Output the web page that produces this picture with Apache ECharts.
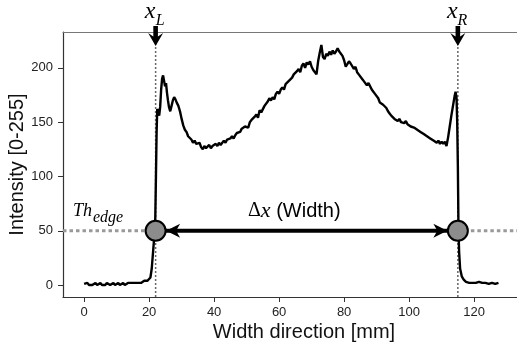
<!DOCTYPE html>
<html>
<head>
<meta charset="utf-8">
<script src="https://cdn.jsdelivr.net/npm/echarts@6/dist/echarts.min.js"></script>
<style>
  html, body { margin: 0; padding: 0; background: #fff; }
  #chart { width: 517px; height: 347px; }
</style>
</head>
<body>
<div id="chart"></div>
<script>
// intensity profile across the width, [mm, intensity]
const profile = [
  [0, 1], [0.5, 0], [1, 2], [1.5, 0], [2, 1], [2.5, 0], [3, 1], [3.5, 2], [4, 0], [4.5, 1],
  [5, 2], [5.5, 0], [6, 1], [6.5, 0], [7, 2], [7.5, 1], [8, 0], [8.5, 1], [9, 2], [9.5, 0],
  [10, 1], [10.5, 2], [11, 0], [11.5, 1], [12, 2], [12.5, 0], [13, 1], [13.5, 2], [14, 2], [14.5, 2],
  [15, 2], [15.5, 2], [16, 2], [16.5, 2], [17, 2], [17.5, 2], [18, 3], [18.5, 4], [19, 3], [19.5, 4],
  [20, 5], [20.4, 7], [20.8, 15], [21.2, 30], [21.6, 45], [21.9, 62], [22.1, 100], [22.3, 140], [22.5, 162],
  [22.8, 160], [23.1, 156], [23.4, 164], [23.7, 180], [24, 190], [24.3, 193], [24.6, 188], [24.9, 183],
  [25.2, 186], [25.5, 177], [25.8, 170], [26.1, 164], [26.5, 160], [26.9, 165], [27.3, 170], [27.7, 173],
  [28.1, 171], [28.5, 168], [29, 165], [29.5, 160],
  [30, 153], [30.5, 147], [31, 143], [31.5, 141], [32, 137], [32.5, 138], [33, 134], [33.5, 131], [34, 133], [34.5, 130],
  [35, 129], [35.5, 131], [36, 127], [36.5, 125], [37, 128], [37.5, 126], [38, 127], [38.5, 129], [39, 126], [39.5, 128],
  [40, 127], [40.5, 130], [41, 128], [41.5, 131], [42, 129], [42.5, 130], [43, 133], [43.5, 131], [44, 134], [44.5, 133],
  [45, 135], [45.5, 137], [46, 135], [46.5, 138], [47, 140], [47.5, 139], [48, 141], [48.5, 144], [49, 143], [49.5, 146],
  [50, 147], [50.5, 145], [51, 150], [51.5, 152], [52, 151], [52.5, 155], [53, 157], [53.5, 154], [54, 161], [54.5, 159],
  [55, 162], [55.5, 165], [56, 164], [56.5, 169], [57, 172], [57.5, 170], [58, 173], [58.5, 171], [59, 176], [59.5, 178],
  [60, 176], [60.5, 180], [61, 182], [61.5, 180], [62, 185], [62.5, 184], [63, 188], [63.5, 187], [64, 191], [64.5, 194],
  [65, 193], [65.5, 197], [66, 199], [66.5, 196], [67, 202], [67.5, 204], [68, 200], [68.5, 205], [69, 203], [69.5, 206],
  [70, 201], [70.5, 198], [71, 197], [71.5, 194], [72, 206], [72.5, 214], [73, 221], [73.5, 210], [74, 208], [74.5, 213],
  [75, 211], [75.5, 215], [76, 212], [76.5, 216], [77, 213], [77.5, 215], [78, 218], [78.5, 215], [79, 214], [79.5, 211],
  [80, 207], [80.5, 201], [81, 200], [81.5, 206], [82, 204], [82.5, 205], [83, 199], [83.5, 201], [84, 196], [84.5, 194],
  [85, 195], [85.5, 190], [86, 188], [86.5, 189], [87, 184], [87.5, 186], [88, 183], [88.5, 180], [89, 178], [89.5, 176],
  [90, 177], [90.5, 172], [91, 168], [91.5, 169], [92, 166], [92.5, 167], [93, 163], [93.5, 160], [94, 158], [94.5, 156],
  [95, 157], [95.5, 153], [96, 154], [96.5, 151], [97, 153], [97.5, 150], [98, 151], [98.5, 149], [99, 151], [99.5, 148],
  [100, 149], [100.5, 146], [101, 147], [101.5, 145], [102, 146], [102.5, 143], [103, 144], [103.5, 141], [104, 142], [104.5, 139],
  [105, 140], [105.5, 137], [106, 138], [106.5, 135], [107, 136], [107.5, 133], [108, 134], [108.5, 131], [109, 133], [109.5, 130],
  [110, 132], [110.5, 130], [111, 132], [111.5, 128],
  [112, 136], [112.5, 146], [113, 156], [113.5, 165], [114, 174], [114.3, 178], [114.6, 172], [114.8, 150],
  [115, 110], [115.2, 50], [115.4, 30], [115.7, 15], [116.2, 8], [116.8, 5], [117.5, 3],
  [118, 3], [118.5, 2], [119, 3], [119.5, 2], [120, 3], [120.5, 2], [121, 1], [121.5, 3], [122, 2], [122.5, 2],
  [123, 1], [123.5, 2], [124, 2], [124.5, 1], [125, 2], [125.5, 2], [126, 2], [126.5, 1], [127, 2], [127.5, 2]
];

const edgeMm = [22, 115];          // detected edges x_L, x_R
const edgeNames = ['L', 'R'];
const thresholdLevel = 50;          // Th_edge
const xTicks = [0, 20, 40, 60, 80, 100, 120];
const yTicks = [0, 50, 100, 150, 200];
const xRange = [-6.5, 133.2];
const yRange = [-11, 233];

const chart = echarts.init(document.getElementById('chart'));
const axisColor = '#333';
const sans = '"Liberation Sans", Arial, sans-serif';
const serif = '"Liberation Serif", "Times New Roman", serif';

const option = {
  animation: false,
  grid: { left: 63, right: 0, top: 32, bottom: 50, outerBoundsMode: 'none', containLabel: false },
  xAxis: [
    {
      type: 'value',
      min: xRange[0],
      max: xRange[1],
      name: 'Width direction [mm]',
      nameLocation: 'middle',
      nameGap: 25,
      nameMoveOverlap: false,
      nameTextStyle: { fontSize: 20, color: '#111', fontFamily: sans, padding: [0, 0, 0, 28] },
      axisLine: { onZero: false, lineStyle: { color: axisColor, width: 1.2 } },
      axisTick: { length: 5, customValues: xTicks, lineStyle: { color: axisColor } },
      axisLabel: { customValues: xTicks, margin: 9, fontSize: 13, color: '#222', fontFamily: sans },
      splitLine: { show: false },
    },
    {
      type: 'value',
      position: 'top',
      min: xRange[0],
      max: xRange[1],
      axisLine: { onZero: false, lineStyle: { color: '#777', width: 1 } },
      axisTick: { show: false },
      axisLabel: { show: false },
      splitLine: { show: false },
    },
  ],
  yAxis: {
    type: 'value',
    min: yRange[0],
    max: yRange[1],
    name: 'Intensity [0-255]',
    nameLocation: 'middle',
    nameGap: 36,
    nameMoveOverlap: false,
    nameTextStyle: { fontSize: 20, color: '#111', fontFamily: sans },
    axisLine: { show: true, onZero: false, lineStyle: { color: axisColor, width: 1.2 } },
    axisTick: { show: true, length: 5, customValues: yTicks, lineStyle: { color: axisColor } },
    axisLabel: { customValues: yTicks, margin: 10, fontSize: 13, color: '#222', fontFamily: sans },
    splitLine: { show: false },
  },
  series: [
    {
      // threshold, left part
      type: 'line',
      data: [[xRange[0], thresholdLevel], [edgeMm[0], thresholdLevel]],
      showSymbol: false,
      silent: true,
      z: 2,
      lineStyle: { color: '#999', width: 3, type: [3.5, 3] },
    },
    {
      // threshold, right part
      type: 'line',
      data: [[edgeMm[1], thresholdLevel], [xRange[1], thresholdLevel]],
      showSymbol: false,
      silent: true,
      z: 2,
      lineStyle: { color: '#999', width: 3, type: [3.5, 3] },
    },
    ...edgeMm.map((e) => ({
      type: 'line',
      data: [[e, yRange[0]], [e, yRange[1]]],
      showSymbol: false,
      silent: true,
      z: 2,
      lineStyle: { color: '#666', width: 1.5, type: [2, 2] },
    })),
    {
      type: 'line',
      data: profile,
      showSymbol: false,
      z: 3,
      lineStyle: { color: '#000', width: 2.4 },
    },
    {
      // width arrow shaft
      type: 'line',
      data: edgeMm.map((e) => [e, thresholdLevel]),
      showSymbol: false,
      silent: true,
      z: 4,
      lineStyle: { color: '#000', width: 4 },
    },
    {
      type: 'scatter',
      data: edgeMm.map((e) => [e, thresholdLevel]),
      symbolSize: 20,
      z: 5,
      itemStyle: { color: '#8c8c8c', borderColor: '#000', borderWidth: 2, opacity: 1 },
    },
  ],
};
chart.setOption(option);

// arrows and math labels, placed through the axes
const px = (v) => chart.convertToPixel({ xAxisIndex: 0 }, v);
const py = (v) => chart.convertToPixel({ yAxisIndex: 0 }, v);
const gridTop = py(yRange[1]);
const thrY = py(thresholdLevel);
const r = 10;
const elements = [];

edgeMm.forEach((e, i) => {
  const cx = px(e);
  const tipY = gridTop + 14;
  elements.push({
    type: 'polygon',
    z: 100,
    shape: {
      points: [
        [cx, tipY], [cx - 7.5, tipY - 13], [cx - 2.3, tipY - 9.5], [cx - 2.3, tipY - 20],
        [cx + 2.3, tipY - 20], [cx + 2.3, tipY - 9.5], [cx + 7.5, tipY - 13],
      ],
    },
    style: { fill: '#000' },
  });
  elements.push({
    type: 'text', z: 100, x: cx - 5.5, y: 12,
    style: { text: 'x', font: 'italic 24px ' + serif, fill: '#000', align: 'center', verticalAlign: 'middle' },
  });
  elements.push({
    type: 'text', z: 100, x: cx + 4.5, y: 21,
    style: { text: edgeNames[i], font: 'italic 16px ' + serif, fill: '#000', align: 'center', verticalAlign: 'middle' },
  });
});

// arrowheads of the width arrow, touching the circles
const lTip = px(edgeMm[0]) + r + 0.5;
const rTip = px(edgeMm[1]) - r - 0.5;
elements.push({
  type: 'polygon', z: 100,
  shape: { points: [[lTip, thrY], [lTip + 14, thrY - 7], [lTip + 10, thrY], [lTip + 14, thrY + 7]] },
  style: { fill: '#000' },
});
elements.push({
  type: 'polygon', z: 100,
  shape: { points: [[rTip, thrY], [rTip - 14, thrY - 7], [rTip - 10, thrY], [rTip - 14, thrY + 7]] },
  style: { fill: '#000' },
});

// Th_edge
elements.push({
  type: 'text', z: 100, x: 73, y: 211,
  style: { text: 'Th', font: 'italic 18px ' + serif, fill: '#000', align: 'left', verticalAlign: 'middle' },
});
elements.push({
  type: 'text', z: 100, x: 93, y: 218,
  style: { text: 'edge', font: 'italic 16px ' + serif, fill: '#000', align: 'left', verticalAlign: 'middle' },
});

// Δx (Width)
elements.push({
  type: 'text', z: 100, x: 248, y: 211,
  style: {
    text: '{d|Δ}{x|x}{w| (Width)}',
    align: 'left',
    verticalAlign: 'middle',
    rich: {
      d: { font: '20px ' + serif, fill: '#000' },
      x: { font: 'italic 22px ' + serif, fill: '#000' },
      w: { font: '20px ' + sans, fill: '#000' },
    },
  },
});

chart.setOption({ graphic: { elements } });
</script>
</body>
</html>
